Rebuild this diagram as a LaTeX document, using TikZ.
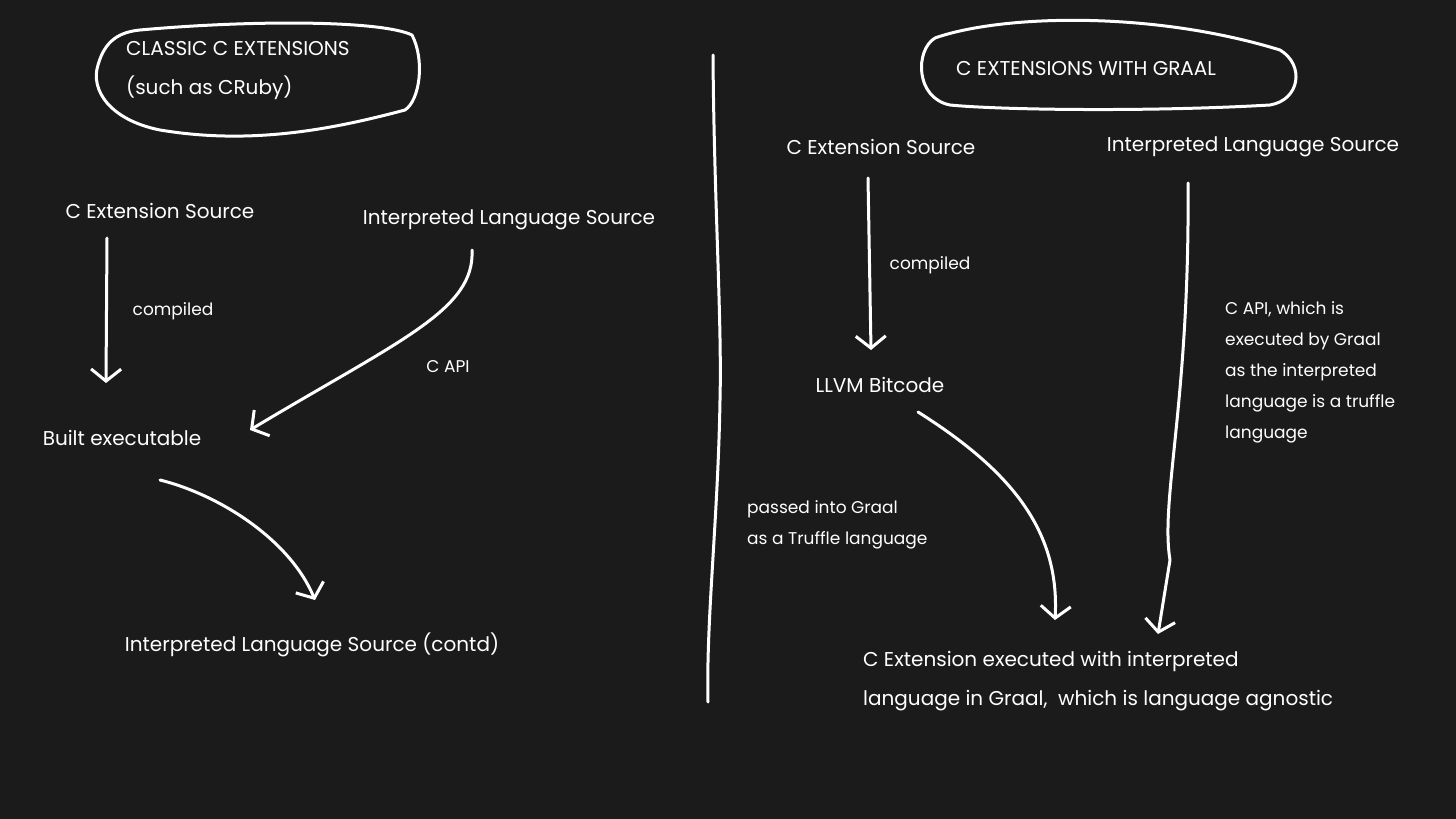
\documentclass[tikz,border=0pt]{standalone}
\usepackage{fontspec}
\setmainfont{Poppins}
\usetikzlibrary{arrows.meta}
\definecolor{bg}{HTML}{1B1B1B}
\begin{document}
\begin{tikzpicture}[x=1pt,y=-1pt,
  txt/.style={text=white,inner sep=1pt,font=\fontsize{20}{24}\selectfont},
  small/.style={text=white,inner sep=1pt,align=left,font=\fontsize{17}{31}\selectfont},
  pen/.style={draw=white,line width=3pt,line cap=round,line join=round},
  arr/.style={pen,-{Straight Barb[length=12pt,width=30pt,line width=3pt]}}]
\fill[bg] (0,0) rectangle (1456,819);
\useasboundingbox (0,0) rectangle (1456,819);
% blobs
\draw[pen] (140,30) .. controls (250,20) and (380,20) .. (412,35) .. controls (425,60) and (420,100) .. (405,110) .. controls (330,130) and (250,145) .. (160,130) .. controls (110,120) and (90,90) .. (98,65) .. controls (105,40) and (120,32) .. (140,30);
\draw[pen] (935,38) .. controls (1000,15) and (1150,10) .. (1280,50) .. controls (1305,65) and (1300,100) .. (1270,105) .. controls (1150,112) and (1000,110) .. (950,105) .. controls (915,98) and (915,50) .. (935,38);
\node[txt,anchor=west] (t1) at (125,49) {CLASSIC C EXTENSIONS};
\node[txt,anchor=west] (t2) at (125,88) {(such as CRuby)};
\node[txt,anchor=west] (t3) at (955,69) {C EXTENSIONS WITH GRAAL};
% divider
\coordinate (d1) at (713,55); \coordinate (d2) at (720,400); \coordinate (d3) at (708,702);
\draw[pen] (d1) .. controls (714,200) and (722,320) .. (d2) .. controls (718,520) and (706,620) .. (d3);
% left nodes
\node[txt] (ces) at (160,211) {C Extension Source};
\node[txt] (ils) at (509,220) {Interpreted Language Source};
\node[txt] (be) at (122,438) {Built executable};
\node[txt] (ilc) at (312,645) {Interpreted Language Source (contd)};
\node[small] (l1) at (173,311) {compiled};
\node[small] (l2) at (448,367) {C API};
\coordinate (a1s) at (107,238); \coordinate (a1e) at (106,383);
\draw[arr] (a1s) -- (a1e);
\coordinate (a2s) at (472,250); \coordinate (a2e) at (250,430);
\draw[arr] (a2s) .. controls (475,310) and (400,340) .. (a2e);
\coordinate (a3s) at (160,480); \coordinate (a3e) at (315,600);
\draw[arr] (a3s) .. controls (220,495) and (290,540) .. (a3e);
% right nodes
\node[txt] (rces) at (881,147) {C Extension Source};
\node[txt] (rils) at (1253,147) {Interpreted Language Source};
\node[txt] (llvm) at (880,385) {LLVM Bitcode};
\node[small] (l3) at (930,265) {compiled};
\node[small,anchor=north west] (l4) at (1224,300) {C API, which is\\executed by Graal\\as the interpreted\\language is a truffle\\language};
\node[small,anchor=north west] (l5) at (746,499) {passed into Graal\\as a Truffle language};
\node[txt,anchor=north west,align=left,font=\fontsize{20}{39}\selectfont] (res) at (862,650) {C Extension executed with interpreted\\language in Graal,\ \ which is language agnostic};
\coordinate (b1s) at (868,178); \coordinate (b1e) at (871,350);
\draw[arr] (b1s) -- (b1e);
\coordinate (b2s) at (918,412); \coordinate (b2e) at (1055,620);
\draw[arr] (b2s) .. controls (1010,470) and (1060,530) .. (b2e);
\coordinate (b3s) at (1188,183); \coordinate (b3e) at (1158,634);
\draw[arr] (b3s) .. controls (1190,400) and (1160,500) .. (1170,560) -- (b3e);
\end{tikzpicture}
\end{document}
